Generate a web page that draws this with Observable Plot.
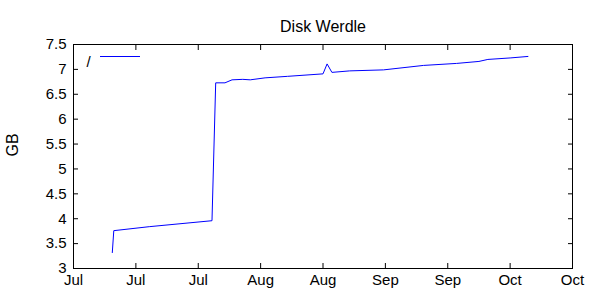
<!DOCTYPE html>
<html>
<head>
<meta charset="utf-8">
<script src="https://cdn.jsdelivr.net/npm/d3@7"></script>
<script src="https://cdn.jsdelivr.net/npm/@observablehq/plot@0.6"></script>
<style>
  html, body { margin: 0; padding: 0; background: #fff; }
  #chart svg { display: block; font-family: "Liberation Sans", Arial, sans-serif; }
</style>
</head>
<body>
<div id="chart"></div>
<script>
const title = "Disk Werdle";
const yLabel = "GB";
const legendLabel = "/";

const dates = [
  "2009-07-09T17:00", "2009-07-10T01:00", "2009-07-18T00:00", "2009-08-01T02:00",
  "2009-08-01T22:00", "2009-08-04T00:00", "2009-08-05T14:00", "2009-08-08T00:00",
  "2009-08-09T16:00", "2009-08-13T00:00", "2009-08-18T00:00", "2009-08-26T00:00",
  "2009-08-26T22:00", "2009-08-28T00:00", "2009-09-01T00:00", "2009-09-08T14:00",
  "2009-09-17T14:00", "2009-09-25T00:00", "2009-09-30T00:00", "2009-10-02T00:00",
  "2009-10-07T00:00", "2009-10-11T00:00"
];
const gb = [
  3.32, 3.76, 3.84, 3.96,
  6.73, 6.73, 6.79, 6.80,
  6.79, 6.83, 6.86, 6.91,
  7.11, 6.94, 6.97, 6.99,
  7.08, 7.12, 7.16, 7.20,
  7.23, 7.26
];
const xTicks = [
  "2009-07-01", "2009-07-15", "2009-07-29", "2009-08-12", "2009-08-26",
  "2009-09-09", "2009-09-23", "2009-10-07", "2009-10-21"
];
const yTicks = [3, 3.5, 4, 4.5, 5, 5.5, 6, 6.5, 7, 7.5];

const data = dates.map((d, i) => ({date: new Date(d + "Z"), value: gb[i]}));
const xt = xTicks.map(d => new Date(d + "T00:00Z"));

const fontSize = 15;

const chart = Plot.plot({
  width: 600,
  height: 300,
  marginLeft: 73,
  marginRight: 28,
  marginTop: 44,
  marginBottom: 32,
  style: {fontSize: fontSize + "px", fontFamily: "Liberation Sans, Arial, sans-serif", color: "#000"},
  x: {type: "utc", domain: [xt[0], xt[xt.length - 1]]},
  y: {domain: [3, 7.5]},
  marks: [
    // inward ticks on all four sides
    Plot.axisX(xt, {anchor: "bottom", tickSize: 5, text: null, dy: -5, label: null, stroke: "#000"}),
    Plot.axisX(xt, {anchor: "top", tickSize: 5, text: null, dy: 5, label: null, stroke: "#000"}),
    Plot.axisY(yTicks, {anchor: "left", tickSize: 5, text: null, dx: 5, label: null, stroke: "#000"}),
    Plot.axisY(yTicks, {anchor: "right", tickSize: 5, text: null, dx: -5, label: null, stroke: "#000"}),
    // tick labels
    Plot.axisX(xt, {anchor: "bottom", tickSize: 0, tickPadding: 6, tickFormat: d3.utcFormat("%b"), label: null, fill: "#000"}),
    Plot.axisY(yTicks, {anchor: "left", tickSize: 0, tickPadding: 7, tickFormat: d => String(d), label: null, fill: "#000"}),
    Plot.frame({stroke: "#000"}),
    Plot.line(data, {x: "date", y: "value", stroke: "#0000ff", strokeWidth: 1}),
    // title
    Plot.text([title], {frameAnchor: "top", dy: -24, fill: "#000", fontSize: 16}),
    // y label
    Plot.text([yLabel], {frameAnchor: "left", dx: -61, rotate: -90, fill: "#000", fontSize: 16}),
    // legend text
    Plot.text([legendLabel], {frameAnchor: "top-left", dx: 13, dy: 12, fill: "#000", fontSize: fontSize})
  ]
});

// legend line sample
d3.select(chart).append("line")
  .attr("x1", 100).attr("x2", 140)
  .attr("y1", 56.5).attr("y2", 56.5)
  .attr("stroke", "#0000ff").attr("stroke-width", 1);

document.getElementById("chart").appendChild(chart);
</script>
</body>
</html>
